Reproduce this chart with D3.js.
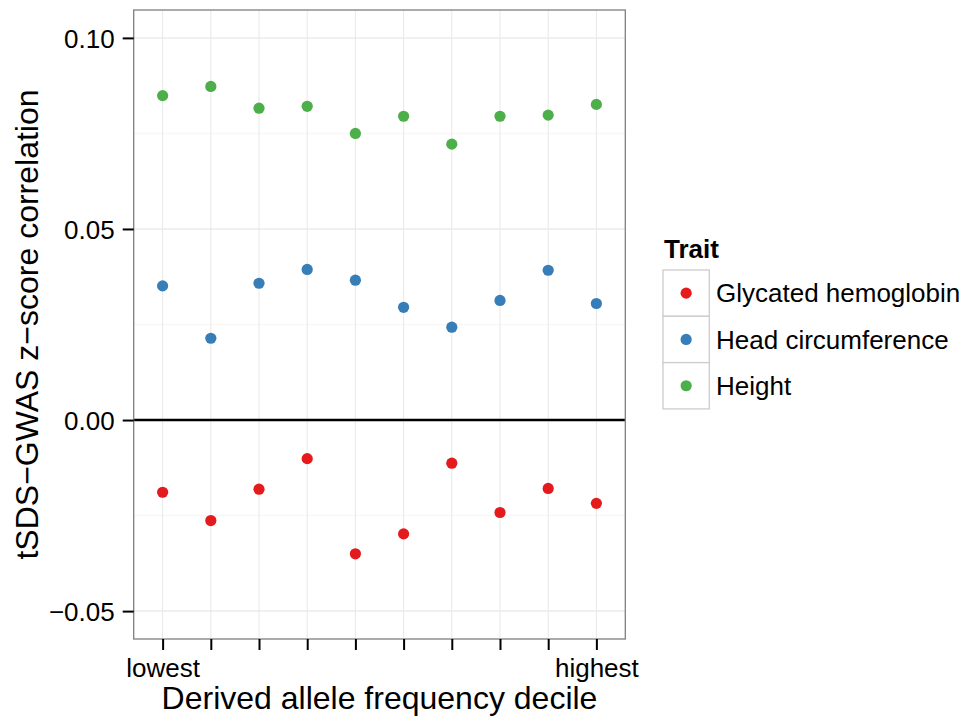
<!DOCTYPE html>
<html>
<head>
<meta charset="utf-8">
<script src="https://cdn.jsdelivr.net/npm/d3@7"></script>
<style>
  html, body { margin: 0; padding: 0; background: #fff; }
  svg { display: block; font-family: "Liberation Sans", Arial, Helvetica, sans-serif; }
</style>
</head>
<body>
<svg id="chart" width="972" height="721"></svg>
<script>
// Derived allele frequency deciles (1 = lowest, 10 = highest)
const deciles = [1, 2, 3, 4, 5, 6, 7, 8, 9, 10];
const decileLabels = ["lowest", "", "", "", "", "", "", "", "", "highest"];

// tSDS–GWAS z-score correlation per decile, by trait
const traits = ["Glycated hemoglobin", "Head circumference", "Height"];
const glycatedHemoglobin = [-0.0189, -0.0263, -0.0181, -0.0101, -0.0350, -0.0298, -0.0113, -0.0242, -0.0179, -0.0218];
const headCircumference  = [0.0351, 0.0214, 0.0358, 0.0394, 0.0366, 0.0295, 0.0243, 0.0313, 0.0392, 0.0305];
const height             = [0.0849, 0.0873, 0.0816, 0.0821, 0.0750, 0.0795, 0.0722, 0.0795, 0.0798, 0.0826];

const yTicks = [-0.05, 0.00, 0.05, 0.10];
const yMinorTicks = [-0.025, 0.025, 0.075];
const traitColors = ["#E41A1C", "#377EB8", "#4DAF4A"];

const seriesValues = [glycatedHemoglobin, headCircumference, height];
const points = [];
traits.forEach((t, i) => {
  seriesValues[i].forEach((v, j) => points.push({ trait: t, decile: deciles[j], value: v }));
});

const svg = d3.select("#chart");
const panel = { left: 133.7, right: 625.3, top: 10, bottom: 639 };

const x = d3.scalePoint()
  .domain(deciles)
  .range([panel.left, panel.right])
  .padding(0.6);

const y = d3.scaleLinear()
  .domain([-0.0573, 0.1073])
  .range([panel.bottom, panel.top]);

const color = d3.scaleOrdinal().domain(traits).range(traitColors);

// Grid
const grid = svg.append("g");
grid.selectAll("line.minor").data(yMinorTicks).join("line")
  .attr("x1", panel.left).attr("x2", panel.right)
  .attr("y1", d => y(d)).attr("y2", d => y(d))
  .attr("stroke", "#F7F7F7").attr("stroke-width", 1.5);
grid.selectAll("line.hmajor").data(yTicks).join("line")
  .attr("x1", panel.left).attr("x2", panel.right)
  .attr("y1", d => y(d)).attr("y2", d => y(d))
  .attr("stroke", "#EBEBEB").attr("stroke-width", 1.5);
grid.selectAll("line.vmajor").data(deciles).join("line")
  .attr("x1", d => x(d)).attr("x2", d => x(d))
  .attr("y1", panel.top).attr("y2", panel.bottom)
  .attr("stroke", "#E8E8E8").attr("stroke-width", 1);

// Zero reference line
svg.append("line")
  .attr("x1", panel.left).attr("x2", panel.right)
  .attr("y1", y(0)).attr("y2", y(0))
  .attr("stroke", "#000").attr("stroke-width", 2.5);

// Points
svg.append("g").selectAll("circle").data(points).join("circle")
  .attr("cx", d => x(d.decile))
  .attr("cy", d => y(d.value))
  .attr("r", 5.6)
  .attr("fill", d => color(d.trait));

// Panel border
svg.append("rect")
  .attr("x", panel.left).attr("y", panel.top)
  .attr("width", panel.right - panel.left)
  .attr("height", panel.bottom - panel.top)
  .attr("fill", "none").attr("stroke", "#7F7F7F").attr("stroke-width", 1.3);

// Axes
const xAxis = d3.axisBottom(x)
  .tickSize(11).tickPadding(6)
  .tickFormat((d, i) => decileLabels[i]);
const gx = svg.append("g").attr("transform", `translate(0,${panel.bottom})`).call(xAxis);
gx.select(".domain").remove();
gx.selectAll(".tick line").attr("stroke", "#000").attr("stroke-width", 2);
gx.selectAll(".tick text").attr("fill", "#000").attr("font-size", 26).attr("dy", null).attr("y", 38);

const yAxis = d3.axisLeft(y)
  .tickValues(yTicks)
  .tickSize(11).tickPadding(7)
  .tickFormat(d => d3.format(".2f")(d).replace("-", "\u2212"));
const gy = svg.append("g").attr("transform", `translate(${panel.left},0)`).call(yAxis);
gy.select(".domain").remove();
gy.selectAll(".tick line").attr("stroke", "#000").attr("stroke-width", 2);
gy.selectAll(".tick text").attr("fill", "#000").attr("font-size", 26).attr("dy", "0.35em").attr("x", -19);
svg.selectAll(".tick text").attr("font-family", null);

// Axis titles
svg.append("text")
  .attr("x", (panel.left + panel.right) / 2).attr("y", 709)
  .attr("text-anchor", "middle").attr("font-size", 32).attr("fill", "#000")
  .text("Derived allele frequency decile");

svg.append("text")
  .attr("transform", `translate(38,${(panel.top + panel.bottom) / 2}) rotate(-90)`)
  .attr("text-anchor", "middle").attr("font-size", 32).attr("fill", "#000")
  .text("tSDS\u2212GWAS z\u2212score correlation");

// Legend
const legend = svg.append("g").attr("transform", "translate(663,270)");
legend.append("text")
  .attr("x", 1).attr("y", -12)
  .attr("font-size", 26).attr("font-weight", "bold").attr("fill", "#000")
  .text("Trait");
const keySize = 46.3;
const item = legend.selectAll("g.item").data(traits).join("g")
  .attr("transform", (d, i) => `translate(0,${i * keySize})`);
item.append("rect")
  .attr("width", keySize).attr("height", keySize)
  .attr("fill", "#fff").attr("stroke", "#CCCCCC").attr("stroke-width", 1.3);
item.append("circle")
  .attr("cx", keySize / 2).attr("cy", keySize / 2).attr("r", 5.6)
  .attr("fill", d => color(d));
item.append("text")
  .attr("x", 53).attr("y", keySize / 2 + 9.3)
  .attr("font-size", 26).attr("fill", "#000")
  .text(d => d);
</script>
</body>
</html>
